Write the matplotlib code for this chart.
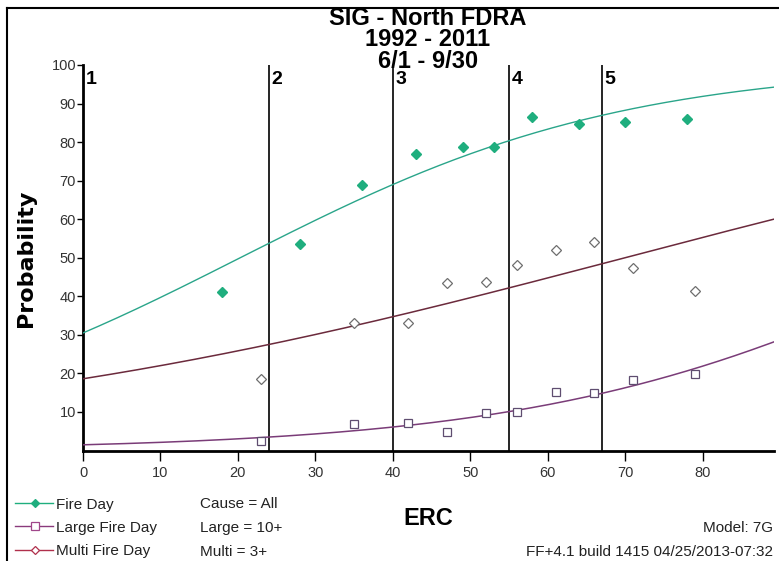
import numpy as np
import matplotlib
matplotlib.use("Agg")
import matplotlib.pyplot as plt
from matplotlib.lines import Line2D

# ---- data ----
fire_erc = [18, 28, 36, 43, 49, 53, 58, 64, 70, 78]
fire_prob = [41, 53.5, 69, 77, 78.7, 78.6, 86.5, 84.8, 85.2, 86]

large_erc = [23, 35, 42, 47, 52, 56, 61, 66, 71, 79]
large_prob = [2.4, 7.0, 7.2, 4.8, 9.6, 10.1, 15.3, 14.9, 18.2, 19.8]

multi_erc = [23, 35, 42, 47, 52, 56, 61, 66, 71, 79]
multi_prob = [18.6, 33.2, 33.1, 43.5, 43.8, 48.2, 51.9, 54.2, 47.4, 41.5]

# logistic model coefficients (intercept, slope) for each fitted curve
fire_coef = (-0.824, 0.0406)
large_coef = (-4.20, 0.0366)
multi_coef = (-1.476, 0.0211)

zone_breaks = [24, 40, 55, 67]
zone_labels = ["1", "2", "3", "4", "5"]

x_ticks = [0, 10, 20, 30, 40, 50, 60, 70, 80]
y_ticks = [10, 20, 30, 40, 50, 60, 70, 80, 90, 100]

title_lines = ["SIG - North FDRA", "1992 - 2011", "6/1 - 9/30"]

# ---- styling ----
W, H = 779, 561
FONT = "Liberation Sans"
c_fire = "#1fae7e"
c_fire_line = "#2aa58a"
c_large = "#7a3c78"
c_large_mk = "#5f4d70"
c_multi = "#6b2a3c"
c_multi_mk = "#6e6e6e"

plt.rcParams["font.family"] = [FONT, "DejaVu Sans"]

fig = plt.figure(figsize=(W / 100, H / 100), dpi=100)


def fx(px):
    return px / W


def fy(py):
    return 1 - py / H


ax_left, ax_right = 83, 774
ax_top, ax_bottom = 65, 450.5
ax = fig.add_axes([fx(ax_left), fy(ax_bottom), (ax_right - ax_left) / W,
                   (ax_bottom - ax_top) / H])

xmax = 89.2
ax.set_xlim(0, xmax)
ax.set_ylim(0, 100)

xs = np.linspace(0, xmax, 300)


def logistic(coef, x):
    a, b = coef
    return 100.0 / (1.0 + np.exp(-(a + b * x)))


ax.plot(xs, logistic(fire_coef, xs), color=c_fire_line, lw=1.0, zorder=3)
ax.plot(xs, logistic(multi_coef, xs), color=c_multi, lw=1.1, zorder=3)
ax.plot(xs, logistic(large_coef, xs), color=c_large, lw=1.1, zorder=3)

ax.plot(fire_erc, fire_prob, ls="none", marker="D", ms=4.8,
        mfc=c_fire, mec=c_fire, zorder=4)
ax.plot(large_erc, large_prob, ls="none", marker="s", ms=6.0,
        mfc="white", mec=c_large_mk, mew=0.9, zorder=4)
ax.plot(multi_erc, multi_prob, ls="none", marker="D", ms=5.3,
        mfc="white", mec=c_multi_mk, mew=0.9, zorder=4)

# staffing-level zone boundaries
for xb in zone_breaks:
    ax.plot([xb, xb], [0, 100], color="black", lw=1.2, zorder=2)
for xb, lab in zip([0] + zone_breaks, zone_labels):
    ax.annotate(lab, xy=(xb, 95.0), xytext=(2.5, 0), textcoords="offset pixels",
                ha="left", va="baseline", fontsize=14, fontweight="bold",
                fontfamily=FONT, color="black")

for s in ["top", "right"]:
    ax.spines[s].set_visible(False)
ax.spines["left"].set_linewidth(2.0)
ax.spines["bottom"].set_linewidth(2.0)

ax.set_xticks(x_ticks)
ax.set_yticks(y_ticks)
ax.tick_params(axis="x", direction="out", length=7, width=1, pad=4,
               labelsize=10.5, labelcolor="#333333")
ax.tick_params(axis="y", direction="out", length=4, width=1, pad=1,
               labelsize=10.5, labelcolor="#333333")

# three-line title as one text block (baseline is that of the last line)
fig.text(fx(428), fy(67.5), "\n".join(title_lines), ha="center", va="baseline",
         multialignment="center", linespacing=0.89,
         fontsize=17, fontweight="bold", color="black")

fig.text(fx(26), fy(258), "Probability", rotation=90, ha="center",
         va="center", fontsize=16, fontweight="bold",
         family=["DejaVu Sans"], color="black")
fig.text(fx(428), fy(525), "ERC", ha="center", va="baseline",
         fontsize=17, fontweight="bold", color="black")

# legend block
legend_rows = [
    ("Fire Day", c_fire, "D", c_fire, c_fire, 4.0),
    ("Large Fire Day", "#8a3a7c", "s", "white", "#a0468a", 5.5),
    ("Multi Fire Day", "#b0304c", "D", "white", "#b0304c", 4.0),
]
row_line_y = [503, 526, 550]
row_base_y = [508.5, 532, 555.5]
for (lab, lc, mk, mfc, mec, ms), ly, by in zip(legend_rows, row_line_y, row_base_y):
    fig.add_artist(Line2D([fx(15), fx(53)], [fy(ly), fy(ly)], color=lc, lw=1.0,
                          transform=fig.transFigure))
    fig.add_artist(Line2D([fx(35)], [fy(ly)], ls="none", marker=mk, ms=ms,
                          mfc=mfc, mec=mec, mew=0.9, transform=fig.transFigure))
    fig.text(fx(56), fy(by), lab, ha="left", va="baseline", fontsize=11,
             color="#222222")

for txt, by in zip(["Cause = All", "Large = 10+", "Multi = 3+"], row_base_y):
    fig.text(fx(200), fy(by), txt, ha="left", va="baseline", fontsize=11,
             color="#222222")

fig.text(fx(773), fy(532), "Model: 7G", ha="right", va="baseline",
         fontsize=11, color="#222222")
fig.text(fx(773), fy(555.5), "FF+4.1 build 1415 04/25/2013-07:32", ha="right",
         va="baseline", fontsize=11, color="#222222")

# outer frame (top and left edges)
fig.add_artist(Line2D([fx(6.5), fx(W)], [fy(8), fy(8)], color="black", lw=1.5,
                      transform=fig.transFigure))
fig.add_artist(Line2D([fx(6.5), fx(6.5)], [fy(8), fy(H)], color="black", lw=1.5,
                      transform=fig.transFigure))

fig.savefig("out.png", dpi=100)
